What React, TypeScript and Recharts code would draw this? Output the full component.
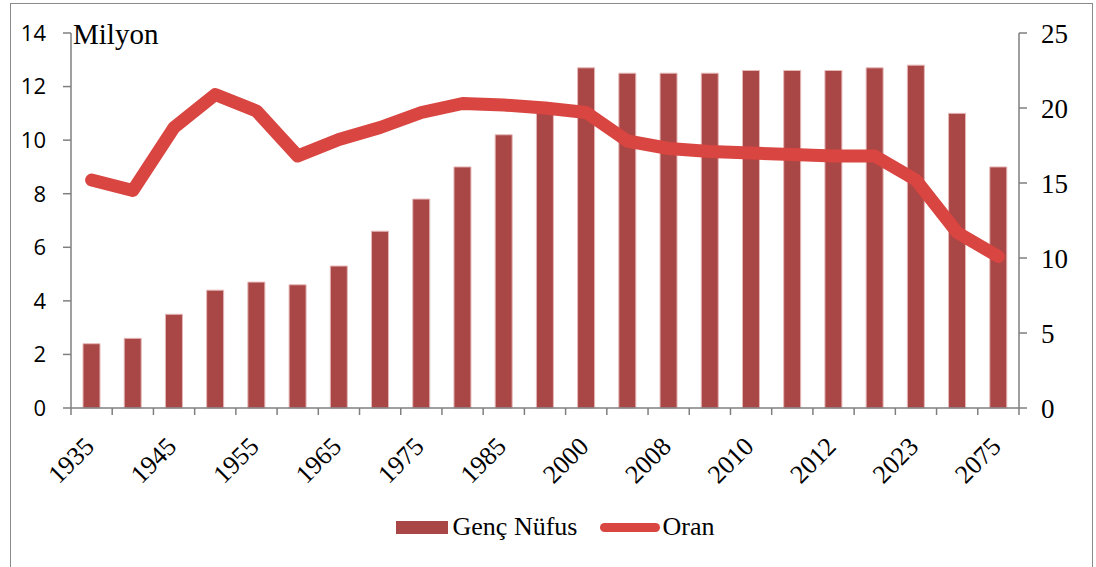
import React from "react";
import {
  Bar,
  ComposedChart,
  Legend,
  Line,
  XAxis,
  YAxis,
} from "recharts";

const years = [
  "1935", "1940", "1945", "1950", "1955", "1960", "1965", "1970", "1975", "1980",
  "1985", "1990", "2000", "2005", "2008", "2009", "2010", "2011", "2012", "2013",
  "2023", "2050", "2075",
];
const gencNufus = [
  2.4, 2.6, 3.5, 4.4, 4.7, 4.6, 5.3, 6.6, 7.8, 9.0,
  10.2, 11.3, 12.7, 12.5, 12.5, 12.5, 12.6, 12.6, 12.6, 12.7,
  12.8, 11.0, 9.0,
];
const oran = [
  15.2, 14.5, 18.7, 20.9, 19.8, 16.8, 17.9, 18.7, 19.7, 20.3,
  20.2, 20.0, 19.7, 17.8, 17.3, 17.1, 17.0, 16.9, 16.8, 16.8,
  15.2, 11.7, 10.1,
];
const leftTicks = [0, 2, 4, 6, 8, 10, 12, 14];
const rightTicks = [0, 5, 10, 15, 20, 25];

const data = years.map((year, i) => ({
  year,
  genc: gencNufus[i],
  oran: oran[i],
}));

const W = 1096;
const H = 567;
const LEFT_W = 71;
const RIGHT_W = 77;
const BAR_COLOR = "#a94646";
const LINE_COLOR = "#d94541";
const AXIS_COLOR = "#7f7f7f";
const SERIF = "Liberation Serif, serif";
const SANS = "Open Sans, Liberation Sans, sans-serif";

const halfBand = (W - LEFT_W - RIGHT_W) / years.length / 2;

const XTick = (props: any) => {
  const { x, y, payload, index } = props;
  const last = index === years.length - 1;
  const tx = x + 4;
  const ty = y + 40;
  return (
    <g>
      <line x1={x - halfBand} x2={x - halfBand} y1={y} y2={y + 7} stroke={AXIS_COLOR} strokeWidth={1.5} />
      {last && (
        <line x1={x + halfBand} x2={x + halfBand} y1={y} y2={y + 7} stroke={AXIS_COLOR} strokeWidth={1.5} />
      )}
      {index % 2 === 0 && (
        <text
          x={tx}
          y={ty}
          textAnchor="end"
          fontFamily={SERIF}
          fontSize={26}
          fill="#000"
          transform={`rotate(-45, ${tx}, ${ty})`}
        >
          {payload.value}
        </text>
      )}
    </g>
  );
};

const LegendContent = () => (
  <div
    style={{
      display: "flex",
      justifyContent: "center",
      alignItems: "center",
      height: 40,
      fontFamily: SERIF,
      fontSize: 26,
      color: "#000",
      paddingLeft: 14,
    }}
  >
    <span style={{ display: "inline-block", width: 52, height: 13, background: BAR_COLOR, marginRight: 5 }} />
    <span>Genç Nüfus</span>
    <span
      style={{
        display: "inline-block",
        width: 60,
        height: 9,
        borderRadius: 5,
        background: LINE_COLOR,
        marginLeft: 23,
        marginRight: 2,
      }}
    />
    <span>Oran</span>
  </div>
);

export default function App() {
  return (
    <div style={{ position: "absolute", left: 0, top: 0, width: W, height: H, background: "#fff", overflow: "hidden" }}>
      <div
        style={{
          position: "absolute",
          left: 10,
          top: 3,
          width: 1081,
          height: 620,
          border: "1.5px solid #8a8a8a",
        }}
      />
      <div style={{ position: "absolute", left: 0, top: 0 }}>
        <ComposedChart
          width={W}
          height={H}
          data={data}
          margin={{ top: 33, right: 0, bottom: 20, left: 0 }}
        >
          <XAxis
            dataKey="year"
            interval={0}
            height={99}
            tickSize={0}
            tickMargin={0}
            tickLine={false}
            axisLine={{ stroke: AXIS_COLOR, strokeWidth: 1.5 }}
            tick={<XTick />}
          />
          <YAxis
            yAxisId="left"
            domain={[0, 14]}
            ticks={leftTicks}
            width={LEFT_W}
            tickSize={8}
            tickMargin={17}
            axisLine={{ stroke: AXIS_COLOR, strokeWidth: 1.5 }}
            tickLine={{ stroke: AXIS_COLOR, strokeWidth: 1.5 }}
            tick={{ fontFamily: SANS, fontSize: 22, fill: "#000" }}
            label={{
              content: ({ viewBox }: any) => (
                <text
                  x={viewBox.x + viewBox.width + 2}
                  y={viewBox.y + 11}
                  fontFamily={SERIF}
                  fontSize={29}
                  fill="#000"
                >
                  Milyon
                </text>
              ),
            }}
          />
          <YAxis
            yAxisId="right"
            orientation="right"
            domain={[0, 25]}
            ticks={rightTicks}
            width={RIGHT_W}
            tickSize={8}
            tickMargin={14}
            axisLine={{ stroke: AXIS_COLOR, strokeWidth: 1.5 }}
            tickLine={{ stroke: AXIS_COLOR, strokeWidth: 1.5 }}
            tick={{ fontFamily: SERIF, fontSize: 27, fill: "#000" }}
          />
          <Legend verticalAlign="bottom" height={40} content={<LegendContent />} />
          <Bar
            yAxisId="left"
            dataKey="genc"
            name="Genç Nüfus"
            fill={BAR_COLOR}
            stroke="#e6b8b8"
            strokeWidth={1}
            barSize={17}
            isAnimationActive={false}
          />
          <Line
            yAxisId="right"
            dataKey="oran"
            name="Oran"
            type="linear"
            stroke={LINE_COLOR}
            strokeWidth={13}
            strokeLinecap="round"
            strokeLinejoin="round"
            dot={false}
            activeDot={false}
            isAnimationActive={false}
          />
        </ComposedChart>
      </div>
    </div>
  );
}
